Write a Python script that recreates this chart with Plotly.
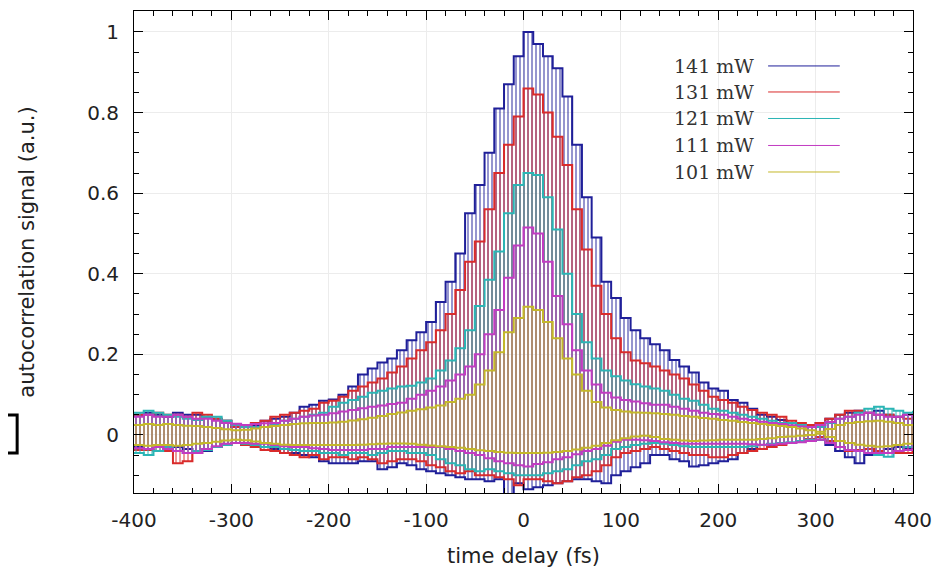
import plotly.graph_objects as go

# ---------------- data ----------------
delay_fs = list(range(-400, 410, 10))  # sample positions of the envelopes

series_names = ["141 mW", "131 mW", "121 mW", "111 mW", "101 mW"]
series_colors = ["#1f1f99", "#d92b2b", "#2bb5b5", "#c23bc2", "#c4b82a"]

upper_141 = [0.05, 0.055, 0.05, 0.045, 0.055, 0.05, 0.05, 0.045, 0.04, 0.035,
             0.02, 0.02, 0.025, 0.035, 0.04, 0.045, 0.055, 0.07, 0.075, 0.085,
             0.088, 0.1, 0.12, 0.15, 0.165, 0.18, 0.19, 0.21, 0.235, 0.255,
             0.28, 0.33, 0.38, 0.45, 0.55, 0.62, 0.70, 0.81, 0.87, 0.94,
             1.0, 0.97, 0.94, 0.91, 0.84, 0.72, 0.59, 0.49, 0.38, 0.34,
             0.29, 0.26, 0.24, 0.225, 0.21, 0.186, 0.17, 0.155, 0.13, 0.115,
             0.11, 0.087, 0.08, 0.065, 0.05, 0.045, 0.037, 0.03, 0.025, 0.02,
             0.03, 0.04, 0.05, 0.055, 0.06, 0.055, 0.06, 0.05, 0.045, 0.05,
             0.05]
lower_141 = [-0.03, -0.035, -0.03, -0.04, -0.03, -0.035, -0.045, -0.04, -0.03, -0.025,
             -0.02, -0.025, -0.03, -0.03, -0.035, -0.045, -0.045, -0.05, -0.055, -0.065,
             -0.07, -0.07, -0.07, -0.065, -0.065, -0.085, -0.08, -0.07, -0.075, -0.085,
             -0.09, -0.095, -0.1, -0.105, -0.11, -0.11, -0.115, -0.11, -0.16, -0.12,
             -0.135, -0.13, -0.125, -0.12, -0.115, -0.11, -0.11, -0.115, -0.12, -0.1,
             -0.09, -0.08, -0.07, -0.05, -0.05, -0.06, -0.065, -0.078, -0.075, -0.07,
             -0.065, -0.06, -0.045, -0.035, -0.025, -0.025, -0.02, -0.02, -0.015, -0.015,
             -0.012, -0.025, -0.04, -0.055, -0.07, -0.05, -0.04, -0.035, -0.03, -0.035,
             -0.03]

upper_131 = [0.05, 0.05, 0.055, 0.05, 0.05, 0.045, 0.055, 0.05, 0.04, 0.035,
             0.02, 0.025, 0.03, 0.035, 0.045, 0.05, 0.055, 0.06, 0.065, 0.08,
             0.085, 0.095, 0.11, 0.12, 0.13, 0.14, 0.155, 0.17, 0.19, 0.21,
             0.23, 0.26, 0.30, 0.36, 0.43, 0.48, 0.56, 0.65, 0.72, 0.79,
             0.86, 0.845, 0.80, 0.74, 0.67, 0.56, 0.46, 0.37, 0.30, 0.24,
             0.205, 0.185, 0.178, 0.17, 0.16, 0.15, 0.14, 0.125, 0.11, 0.095,
             0.087, 0.08, 0.07, 0.062, 0.055, 0.05, 0.045, 0.035, 0.03, 0.025,
             0.03, 0.04, 0.05, 0.06, 0.06, 0.055, 0.05, 0.05, 0.045, 0.04,
             0.045]
lower_131 = [-0.037, -0.037, -0.04, -0.04, -0.07, -0.065, -0.045, -0.035, -0.03, -0.025,
             -0.02, -0.025, -0.03, -0.037, -0.04, -0.045, -0.05, -0.055, -0.05, -0.06,
             -0.055, -0.055, -0.06, -0.055, -0.06, -0.07, -0.065, -0.06, -0.06, -0.065,
             -0.075, -0.08, -0.09, -0.095, -0.09, -0.1, -0.1, -0.105, -0.11, -0.125,
             -0.11, -0.11, -0.115, -0.12, -0.115, -0.105, -0.1, -0.09, -0.075, -0.055,
             -0.045, -0.04, -0.035, -0.03, -0.035, -0.04, -0.045, -0.05, -0.05, -0.055,
             -0.055, -0.05, -0.045, -0.04, -0.035, -0.03, -0.025, -0.02, -0.015, -0.01,
             -0.005, -0.015, -0.03, -0.04, -0.037, -0.035, -0.04, -0.045, -0.045, -0.045,
             -0.04]

upper_121 = [0.055, 0.06, 0.055, 0.05, 0.045, 0.04, 0.037, 0.045, 0.045, 0.035,
             0.025, 0.02, 0.02, 0.02, 0.025, 0.035, 0.04, 0.045, 0.05, 0.055,
             0.07, 0.08, 0.087, 0.095, 0.105, 0.11, 0.115, 0.12, 0.122, 0.13,
             0.14, 0.16, 0.185, 0.215, 0.26, 0.32, 0.385, 0.455, 0.55, 0.62,
             0.65, 0.645, 0.59, 0.51, 0.40, 0.30, 0.23, 0.19, 0.16, 0.146,
             0.135, 0.126, 0.12, 0.115, 0.11, 0.1, 0.09, 0.085, 0.075, 0.065,
             0.06, 0.055, 0.05, 0.045, 0.04, 0.035, 0.03, 0.03, 0.025, 0.02,
             0.02, 0.03, 0.04, 0.045, 0.055, 0.065, 0.07, 0.065, 0.06, 0.055,
             0.06]
lower_121 = [-0.045, -0.05, -0.04, -0.03, -0.04, -0.045, -0.04, -0.037, -0.03, -0.025,
             -0.02, -0.022, -0.025, -0.03, -0.03, -0.035, -0.037, -0.04, -0.04, -0.045,
             -0.045, -0.05, -0.045, -0.045, -0.05, -0.045, -0.04, -0.04, -0.045, -0.045,
             -0.05, -0.06, -0.07, -0.075, -0.085, -0.09, -0.085, -0.09, -0.095, -0.1,
             -0.1, -0.1, -0.095, -0.09, -0.085, -0.075, -0.065, -0.06, -0.05, -0.035,
             -0.03, -0.025, -0.022, -0.02, -0.022, -0.025, -0.028, -0.03, -0.03, -0.03,
             -0.03, -0.03, -0.03, -0.028, -0.025, -0.022, -0.02, -0.018, -0.015, -0.012,
             -0.012, -0.02, -0.03, -0.037, -0.04, -0.045, -0.05, -0.054, -0.04, -0.03,
             -0.03]

upper_111 = [0.045, 0.05, 0.045, 0.045, 0.05, 0.045, 0.04, 0.04, 0.035, 0.03,
             0.028, 0.025, 0.027, 0.029, 0.03, 0.035, 0.04, 0.045, 0.048, 0.05,
             0.054, 0.058, 0.062, 0.066, 0.07, 0.073, 0.077, 0.08, 0.09, 0.1,
             0.11, 0.12, 0.135, 0.15, 0.17, 0.2, 0.25, 0.31, 0.39, 0.47,
             0.515, 0.5, 0.43, 0.345, 0.275, 0.21, 0.16, 0.125, 0.105, 0.093,
             0.087, 0.083, 0.079, 0.075, 0.075, 0.07, 0.065, 0.06, 0.055, 0.052,
             0.05, 0.045, 0.04, 0.037, 0.033, 0.03, 0.027, 0.024, 0.021, 0.02,
             0.025, 0.032, 0.04, 0.045, 0.05, 0.055, 0.05, 0.045, 0.045, 0.05,
             0.045]
lower_111 = [-0.033, -0.035, -0.03, -0.035, -0.04, -0.045, -0.045, -0.035, -0.028, -0.022,
             -0.02, -0.02, -0.022, -0.022, -0.025, -0.028, -0.03, -0.03, -0.033, -0.035,
             -0.037, -0.037, -0.037, -0.037, -0.035, -0.035, -0.03, -0.03, -0.03, -0.03,
             -0.03, -0.03, -0.035, -0.04, -0.045, -0.05, -0.058, -0.065, -0.07, -0.075,
             -0.078, -0.072, -0.068, -0.06, -0.055, -0.048, -0.04, -0.035, -0.027, -0.017,
             -0.012, -0.012, -0.013, -0.015, -0.018, -0.02, -0.022, -0.022, -0.022, -0.022,
             -0.022, -0.022, -0.022, -0.023, -0.024, -0.024, -0.022, -0.02, -0.018, -0.015,
             -0.012, -0.02, -0.03, -0.037, -0.04, -0.045, -0.045, -0.045, -0.04, -0.037,
             -0.035]

upper_101 = [0.025, 0.027, 0.025, 0.027, 0.025, 0.023, 0.022, 0.02, 0.017, 0.014,
             0.012, 0.013, 0.016, 0.02, 0.022, 0.025, 0.027, 0.029, 0.03, 0.03,
             0.031, 0.033, 0.036, 0.039, 0.043, 0.047, 0.052, 0.056, 0.06, 0.064,
             0.068, 0.073, 0.082, 0.09, 0.1, 0.125, 0.16, 0.205, 0.255, 0.29,
             0.318, 0.31, 0.28, 0.24, 0.19, 0.15, 0.11, 0.082, 0.068, 0.062,
             0.058, 0.056, 0.055, 0.054, 0.052, 0.05, 0.047, 0.045, 0.042, 0.04,
             0.037, 0.035, 0.032, 0.03, 0.027, 0.025, 0.022, 0.02, 0.016, 0.012,
             0.008, 0.015, 0.025, 0.03, 0.032, 0.034, 0.035, 0.033, 0.03, 0.025,
             0.022]
lower_101 = [-0.025, -0.027, -0.025, -0.025, -0.027, -0.025, -0.022, -0.02, -0.017, -0.014,
             -0.012, -0.013, -0.016, -0.02, -0.022, -0.024, -0.025, -0.025, -0.025, -0.025,
             -0.025, -0.025, -0.025, -0.024, -0.023, -0.022, -0.021, -0.021, -0.022, -0.024,
             -0.026, -0.028, -0.03, -0.032, -0.035, -0.038, -0.04, -0.042, -0.044, -0.045,
             -0.045, -0.045, -0.044, -0.042, -0.04, -0.036, -0.032, -0.027, -0.02, -0.013,
             -0.008, -0.004, -0.002, -0.005, -0.01, -0.012, -0.014, -0.015, -0.014, -0.013,
             -0.012, -0.012, -0.012, -0.012, -0.01, -0.008, -0.005, -0.004, -0.002, 0.0,
             0.003, -0.005, -0.015, -0.02, -0.024, -0.027, -0.029, -0.028, -0.025, -0.022,
             -0.02]

uppers = [upper_141, upper_131, upper_121, upper_111, upper_101]
lowers = [lower_141, lower_131, lower_121, lower_111, lower_101]

x_tick_vals = [-400, -300, -200, -100, 0, 100, 200, 300, 400]
x_tick_text = ["-400", "-300", "-200", "-100", "0", "100", "200", "300", "400"]
y_tick_vals = [0, 0.2, 0.4, 0.6, 0.8, 1.0]
y_tick_text = ["0", "0.2", "0.4", "0.6", "0.8", "1"]

# ---------------- figure ----------------
fig = go.Figure()
for name, col, up, lo in zip(series_names, series_colors, uppers, lowers):
    fig.add_trace(go.Scatter(
        x=delay_fs, y=lo, mode="lines", name=name,
        line=dict(color=col, width=2, shape="hv"),
        showlegend=False, hoverinfo="skip"))
    fig.add_trace(go.Scatter(
        x=delay_fs, y=up, mode="lines", name=name,
        line=dict(color=col, width=2, shape="hv"),
        fill="tonexty", fillcolor="rgba(0,0,0,0)",
        fillpattern=dict(shape="|", fgcolor=col, bgcolor="rgba(0,0,0,0)",
                         fgopacity=0.8, size=4, solidity=0.3, fillmode="replace"),
        showlegend=False, hoverinfo="skip"))

axis_common = dict(
    showline=True, linecolor="black", linewidth=1, mirror="allticks",
    ticks="inside", ticklen=9, tickwidth=1, tickcolor="black",
    showgrid=True, gridcolor="#ececec", gridwidth=1, zeroline=False,
    tickfont=dict(family="DejaVu Sans", size=20, color="#222"),
)

fig.update_xaxes(
    range=[-400, 400], tickmode="array", tickvals=x_tick_vals, ticktext=x_tick_text,
    minor=dict(tickmode="linear", tick0=0, dtick=20, ticks="inside", ticklen=5,
               tickcolor="black", showgrid=False),
    ticklabelstandoff=9,
    title=dict(text="time delay (fs)", standoff=17,
               font=dict(family="DejaVu Sans", size=21, color="#222")),
    **axis_common)
fig.update_yaxes(
    range=[-0.144, 1.052], tickmode="array", tickvals=y_tick_vals, ticktext=y_tick_text,
    minor=dict(tickmode="linear", tick0=0, dtick=0.05, ticks="inside", ticklen=5,
               tickcolor="black", showgrid=False),
    ticklabelstandoff=10,
    title=dict(text="autocorrelation signal (a.u.)", standoff=46,
               font=dict(family="DejaVu Sans", size=21, color="#222")),
    **axis_common)

# legend drawn as text + short line samples (text left of line, as in reference)
legend_rows_y = [0.886, 0.832, 0.777, 0.721, 0.666]
annotations = []
shapes = []
for name, col, yy in zip(series_names, series_colors, legend_rows_y):
    annotations.append(dict(
        x=0.799, y=yy, xref="paper", yref="paper", text=name, showarrow=False,
        xanchor="right", yanchor="middle",
        font=dict(family="DejaVu Serif", size=19, color="#333")))
    shapes.append(dict(type="line", xref="paper", yref="paper",
                       x0=0.814, x1=0.906, y0=yy, y1=yy,
                       line=dict(color=col, width=1)))

# black bracket artefact at the left edge of the reference image
shapes.append(dict(type="path", xref="paper", yref="paper",
                   path="M -0.175 0.1618 L -0.150 0.1618 L -0.150 0.083 L -0.175 0.083",
                   line=dict(color="black", width=3)))

# the page body adds an 8 px offset, so the figure is 8 px smaller
fig.update_layout(
    width=934, height=565,
    margin=dict(l=126, r=29, t=3, b=80),
    plot_bgcolor="white", paper_bgcolor="white",
    showlegend=False,
    annotations=annotations, shapes=shapes,
)

fig.write_html("out.html")
